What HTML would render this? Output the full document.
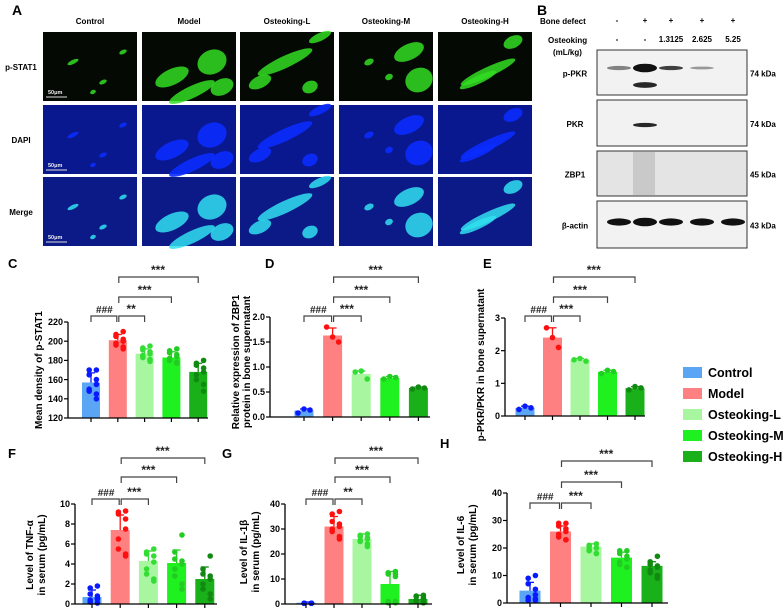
<!DOCTYPE html>
<html><head><meta charset="utf-8"><style>
body{margin:0;background:#fff;}
svg{display:block;font-family:"Liberation Sans",Arial,sans-serif;font-weight:bold;}
</style></head><body>
<svg id="fig" width="783" height="612" viewBox="0 0 783 612" xmlns="http://www.w3.org/2000/svg">
<g id="panelA"></g>
<g id="panelB"></g>
<g id="charts"></g>
<g id="legend"></g>
</svg>
<script>
// ===== Chart data =====
const groups = ["Control","Model","Osteoking-L","Osteoking-M","Osteoking-H"];
const cMeans = [157,201,187,183,168];
const cSd = [10,6,5,6,9];
const cPts = [[170,170,165,160,155,150,148,145,140],[210,207,205,202,200,198,196,194,192],[195,193,191,189,187,185,183,181,179],[192,190,188,186,184,182,180,178,177],[180,177,175,172,168,165,160,155,148]];
const cTicks = [120,140,160,180,200,220];
const dMeans = [0.13,1.63,0.86,0.78,0.58];
const dSd = [0.03,0.15,0.06,0.03,0.02];
const dPts = [[0.08,0.16,0.14],[1.8,1.6,1.5],[0.9,0.92,0.76],[0.76,0.81,0.79],[0.56,0.6,0.58]];
const dTicks = [0,0.5,1.0,1.5,2.0];
const eMeans = [0.25,2.4,1.72,1.35,0.85];
const eSd = [0.05,0.3,0.04,0.05,0.05];
const ePts = [[0.2,0.3,0.25],[2.7,2.4,2.1],[1.72,1.76,1.68],[1.3,1.4,1.36],[0.8,0.9,0.86]];
const eTicks = [0,1,2,3];
const fMeans = [0.7,7.4,4.3,4.1,2.5];
const fSd = [0.7,1.5,1.0,1.3,1.2];
const fPts = [[1.8,1.6,1.0,0.8,0.6,0.4,0.2,0.1,0.5],[9.3,9.2,9.0,8.5,7.5,6.5,5.5,5.0,4.8],[5.5,5.2,5.0,4.8,4.2,3.5,3.0,2.5,2.3],[6.9,5.2,4.5,4.3,4.0,3.5,2.8,2.0,1.5],[4.8,3.5,3.0,2.8,2.5,2.0,1.5,1.0,0.5]];
const fTicks = [0,2,4,6,8,10];
const gMeans = [0.5,31,26,8,2];
const gSd = [0.3,4,2,5,1.5];
const gPts = [[0.3,0.3,0.3,0.3,0.3,0.3,0.3,0.3,0.3],[37,36,33,32,31,30,29,27,26],[28,27.5,27,26.5,26,25.5,25,24,23],[13,12.5,12,12,11,1,0.5,0.5,1],[3.5,3.2,3,2.5,2,1.5,1,0.5,0.5]];
const gTicks = [0,10,20,30,40];
const hMeans = [4.5,26,20.5,16.5,13.5];
const hSd = [3,2,1,2,1.5];
const hPts = [[10,9,7,5,3,2,1,1.5,1],[29,29,28,27,26,25,24,23,23],[21.5,21,20.5,20,20,19.5,19,18,18],[19,19,18,17,16,15,14,13,13],[17,15,14,13.5,13,12,11,10,9]];
const hTicks = [0,10,20,30,40];

const NS="http://www.w3.org/2000/svg";
function mk(parent,tag,attrs,text){const e=document.createElementNS(NS,tag);for(const k in attrs)e.setAttribute(k,attrs[k]);if(text!==undefined)e.textContent=text;parent.appendChild(e);return e;}
const barFill=["#5aa6f5","#ff8080","#a8f7a0","#1ff01f","#19b019"];
const dotFill=["#0a1aff","#ff1010","#33dd33","#22cc22","#118a11"];

function panel(cfg){
  const g=mk(document.getElementById('charts'),'g',{});
  
  
  const y0=cfg.ybot,y1=cfg.ytop,vmin=cfg.ticks[0],vmax=cfg.ticks[cfg.ticks.length-1];
  const Y=v=>y0-(v-vmin)/(vmax-vmin)*(y0-y1);
  const X=i=>cfg.x0+cfg.first+i*cfg.step;
  const bw=cfg.bw;
  cfg.means.forEach((m,i)=>{
    const b=mk(g,'rect',{x:X(i)-bw/2,y:Y(m),width:bw,height:y0-Y(m),fill:barFill[i]});
    
    
    const t=Y(m+cfg.sd[i]);
    mk(g,'line',{x1:X(i),x2:X(i),y1:t,y2:Y(m),stroke:dotFill[i],'stroke-width':1.3});
    mk(g,'line',{x1:X(i)-4,x2:X(i)+4,y1:t,y2:t,stroke:dotFill[i],'stroke-width':1.3});
    const pts=cfg.pts[i],n=pts.length;
    pts.forEach((p,j)=>{
      const off=n===3?(j-1)*6:((j%4)-1.5)*4.5*(j%2?1:-1)*0.8;
      const c=mk(g,'circle',{cx:X(i)+off,cy:Y(p),r:2.8,fill:dotFill[i]});
      
      
    });
  });
  mk(g,'line',{x1:cfg.x0,x2:cfg.x0,y1:y1,y2:y0,stroke:'#000','stroke-width':1.3});
  mk(g,'line',{x1:cfg.x0,x2:cfg.xend,y1:y0,y2:y0,stroke:'#000','stroke-width':1.3});
  cfg.ticks.forEach(t=>{
    mk(g,'line',{x1:cfg.x0-4,x2:cfg.x0,y1:Y(t),y2:Y(t),stroke:'#000','stroke-width':1.2});
    const lb=mk(g,'text',{x:cfg.x0-5,y:Y(t)+3.2,'font-size':9,'text-anchor':'end'},cfg.fmt?cfg.fmt(t):t);
    
    
  });
  cfg.means.forEach((m,i)=>mk(g,'line',{x1:X(i),x2:X(i),y1:y0,y2:y0+4,stroke:'#000','stroke-width':1.2}));
  const tx=mk(g,'text',{transform:`translate(${cfg.tx},${cfg.ty}) rotate(-90)`,'font-size':10,'text-anchor':'middle'});
  
  
  cfg.title.forEach((l,k)=>mk(tx,'tspan',{x:0,dy:k?(cfg.dy||12):0},l));
  cfg.br.forEach(b=>{
    const [a,c,yy,lab]=b;const xc=X(c);
    mk(g,'path',{d:`M${X(a)+(a===0?0:1)},${yy+6}V${yy}H${xc-(a===0?1:0)}V${yy+6}`,fill:'none',stroke:'#444','stroke-width':1.2});
    mk(g,'text',{x:(X(a)+xc)/2,y:yy-3,'font-size':lab[0]==='#'?10:12,'text-anchor':'middle',fill:'#222'},lab);
  });
  const L=mk(g,'text',{x:cfg.lx,y:cfg.ly,'font-size':13},cfg.letter);
  
  
}
const fmt1=v=>v.toFixed(1);
panel({name:'chart-c-pstat1',letter:'C',lx:8,ly:268,means:cMeans,sd:cSd,pts:cPts,ticks:cTicks,x0:68,xend:208,first:23,step:26.8,bw:18,ybot:418,ytop:322,tx:42,ty:370,title:['Mean density of p-STAT1'],
  br:[[0,1,316,'###'],[1,2,316,'**'],[1,3,297,'***'],[1,4,277,'***']]});
panel({name:'chart-d-zbp1',letter:'D',lx:265,ly:268,means:dMeans,sd:dSd,pts:dPts,ticks:dTicks,fmt:fmt1,x0:270,xend:430,first:34,step:28.6,bw:19,ybot:417,ytop:317,tx:239,ty:362,dy:11,title:['Relative expression of ZBP1','protein in bone supernatant'],
  br:[[0,1,316,'###'],[1,2,316,'***'],[1,3,297,'***'],[1,4,277,'***']]});
panel({name:'chart-e-ppkr-pkr',letter:'E',lx:483,ly:268,means:eMeans,sd:eSd,pts:ePts,ticks:eTicks,x0:505,xend:645,first:20,step:27.5,bw:19,ybot:416,ytop:318,tx:484,ty:365,title:['p-PKR/PKR in bone supernatant'],
  br:[[0,1,316,'###'],[1,2,316,'***'],[1,3,297,'***'],[1,4,277,'***']]});
panel({name:'chart-f-tnf',letter:'F',lx:8,ly:458,means:fMeans,sd:fSd,pts:fPts,ticks:fTicks,x0:75,xend:217,first:17,step:28.2,bw:19,ybot:604,ytop:504,tx:33,ty:555,title:['Level of TNF-α','in serum (pg/mL)'],
  br:[[0,1,499,'###'],[1,2,499,'***'],[1,3,477,'***'],[1,4,458,'***']]});
panel({name:'chart-g-il1b',letter:'G',lx:222,ly:458,means:gMeans,sd:gSd,pts:gPts,ticks:gTicks,x0:285,xend:432,first:21,step:28,bw:19,ybot:604,ytop:504,tx:247,ty:552,title:['Level of IL-1β','in serum (pg/mL)'],
  br:[[0,1,499,'###'],[1,2,499,'**'],[1,3,477,'***'],[1,4,458,'***']]});
panel({name:'chart-h-il6',letter:'H',lx:440,ly:448,means:hMeans,sd:hSd,pts:hPts,ticks:hTicks,x0:507,xend:668,first:23,step:30.5,bw:21,ybot:603,ytop:493,tx:464,ty:545,title:['Level of IL-6','in serum (pg/mL)'],
  br:[[0,1,503,'###'],[1,2,503,'***'],[1,3,482,'***'],[1,4,461,'***']]});

const lg=document.getElementById('legend');
groups.forEach((n,i)=>{
  const y=372+i*21;
  const r=mk(lg,'rect',{x:683,y:y-5,width:19,height:11,fill:barFill[i]});
  
  
  const t=mk(lg,'text',{x:708,y:y+5,'font-size':12.5},n);
  
  
});

// ===== Panel A =====
const pa=document.getElementById('panelA');
mk(pa,'text',{x:12,y:15,'font-size':14},'A');
const colX=[43,142,240,339,438];
const rowY=[32,105,177];
const rowNames=['p-STAT1','DAPI','Merge'];
groups.forEach((n,i)=>{mk(pa,'text',{x:colX[i]+47,y:24,'font-size':8,'text-anchor':'middle'},n);});
rowNames.forEach((n,r)=>mk(pa,'text',{x:21,y:rowY[r]+38,'font-size':8,'text-anchor':'middle'},n));
const blobs=[[[30,30,6,2],[60,50,4,2],[50,60,3,2],[80,20,4,2]],[[30,45,18,8],[70,30,15,12],[50,60,25,6],[80,55,12,8]],[[45,30,30,6],[20,50,12,6],[70,55,8,6],[80,5,12,4]],[[70,20,16,8],[80,48,14,12],[30,30,5,3],[50,45,4,3]],[[50,40,30,5],[40,48,20,4],[75,10,10,6]]];
function n2(i){return groups[i].toLowerCase();}
colX.forEach((x,i)=>{
  rowY.forEach((y,r)=>{
    const bg=r===0?'#040904':(r===1?'#0a1890':'#0c1a88');
    const rect=mk(pa,'rect',{x:x,y:y,width:94,height:69,fill:bg});
    
    
    const col=r===0?'#33dd22':(r===1?'#0a2cff':'#30e0f0');
    blobs[i].forEach(b=>mk(pa,'ellipse',{cx:x+b[0],cy:y+b[1],rx:b[2],ry:b[3],fill:col,opacity:r===1?0.9:0.85,transform:`rotate(-25 ${x+b[0]} ${y+b[1]})`}));
    if(i===0){mk(pa,'line',{x1:x+3,x2:x+24,y1:y+65,y2:y+65,stroke:'#ddd','stroke-width':1});mk(pa,'text',{x:x+5,y:y+62,'font-size':5.5,fill:'#eee'},'50μm');}
  });
});

// ===== Panel B =====
const pb=document.getElementById('panelB');
mk(pb,'text',{x:537,y:15,'font-size':14},'B');
mk(pb,'text',{x:540,y:24,'font-size':8},'Bone defect');
mk(pb,'text',{x:548,y:43,'font-size':8},'Osteoking');
mk(pb,'text',{x:553,y:55,'font-size':8},'(mL/kg)');
const laneX=[617,645,671,702,733];
const bd=['-','+','+','+','+'],ok=['-','-','1.3125','2.625','5.25'];
laneX.forEach((x,i)=>{mk(pb,'text',{x:x,y:23,'font-size':8,'text-anchor':'middle'},bd[i]);mk(pb,'text',{x:x,y:42,'font-size':8,'text-anchor':'middle'},ok[i]);});
const blotY=[50,100,151,201],blotH=[45,46,45,47];
const blotN=['p-PKR','PKR','ZBP1','β-actin'],kda=['74 kDa','74 kDa','45 kDa','43 kDa'];
blotY.forEach((y,r)=>{
  const b=mk(pb,'rect',{x:597,y:y,width:150,height:blotH[r],fill:r===2?'#e4e4e4':'#f2f2f2',stroke:'#333','stroke-width':1});
  
  
  mk(pb,'text',{x:575,y:y+blotH[r]/2+4,'font-size':8,'text-anchor':'middle'},blotN[r]);
  mk(pb,'text',{x:750,y:y+blotH[r]/2+4,'font-size':8},kda[r]);
});
const bands=[[0,0,0.5,3],[0,1,1,6],[0,1,0.9,4,85],[0,2,0.8,3],[0,3,0.4,2],[1,1,0.9,3],[3,0,1,5],[3,1,1,6],[3,2,1,5],[3,3,1,5],[3,4,1,5]];
bands.forEach(b=>{const[r,l,o,h,yy]=b;mk(pb,'ellipse',{cx:laneX[l]+(l===0?2:0),cy:yy||(r===1?125:blotY[r]+(r===3?21:18)),rx:12,ry:h/1.4,fill:'#111',opacity:o});});
mk(pb,'rect',{x:633,y:152,width:22,height:43,fill:'#999',opacity:0.35});
</script>
</body></html>
